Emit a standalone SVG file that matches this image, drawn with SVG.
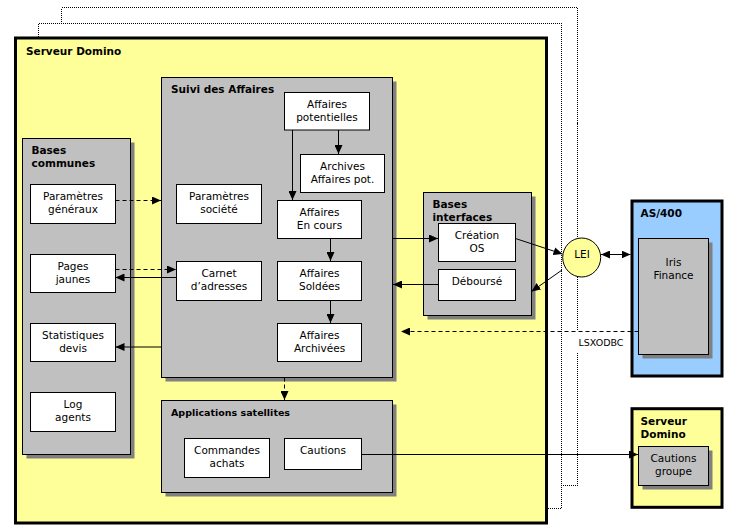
<svg xmlns="http://www.w3.org/2000/svg" width="741" height="532" viewBox="0 0 741 532">
<style>
.t{font-family:"DejaVu Sans",Verdana,sans-serif;font-size:10.5px;fill:#000;text-anchor:middle}
.h{font-family:"DejaVu Sans",Verdana,sans-serif;font-size:10.5px;font-weight:bold;fill:#000}
.w{fill:#fff;stroke:#000;stroke-width:1}
.g{fill:#c0c0c0;stroke:#000;stroke-width:1}
.sh{fill:#808080}
.y{fill:#ffff99;stroke:#000;stroke-width:3}
.b{fill:#99ccff;stroke:#000;stroke-width:3}
.c{fill:none;stroke:#000;stroke-width:1}
.d{stroke-dasharray:4,3}
.dot{stroke-dasharray:1,1;shape-rendering:crispEdges}
</style>
<defs>
<marker id="ah" markerUnits="userSpaceOnUse" markerWidth="9" markerHeight="8" refX="9" refY="4" orient="auto-start-reverse">
<path d="M0,0 L9,4 L0,8 z" fill="#000"/>
</marker>
</defs>
<rect width="741" height="532" fill="#fff"/>

<g id="serveur-domino">
<rect class="y" x="15.5" y="38" width="531" height="485"/>
<text class="h" x="26" y="55">Serveur Domino</text>
</g>

<g id="bases-communes">
<rect class="sh" x="26.5" y="142.5" width="108" height="316"/>
<rect class="g" x="22.5" y="138.5" width="108" height="316"/>
<text class="h" x="31.5" y="154">Bases</text>
<text class="h" x="31.5" y="167">communes</text>
</g>
<g id="parametres-generaux">
<rect class="w" x="30.5" y="184.5" width="85" height="39"/>
<text class="t" x="73" y="200">Paramètres</text>
<text class="t" x="73" y="213">généraux</text>
</g>
<g id="pages-jaunes">
<rect class="w" x="30.5" y="254.5" width="85" height="38"/>
<text class="t" x="73" y="270">Pages</text>
<text class="t" x="73" y="283">jaunes</text>
</g>
<g id="statistiques-devis">
<rect class="w" x="30.5" y="323.5" width="85" height="38"/>
<text class="t" x="73" y="339">Statistiques</text>
<text class="t" x="73" y="352">devis</text>
</g>
<g id="log-agents">
<rect class="w" x="30.5" y="392.5" width="85" height="39"/>
<text class="t" x="73" y="408">Log</text>
<text class="t" x="73" y="421">agents</text>
</g>

<g id="suivi-affaires">
<rect class="sh" x="165.5" y="81.5" width="231" height="300"/>
<rect class="g" x="161.5" y="77.5" width="231" height="300"/>
<text class="h" x="171" y="93">Suivi des Affaires</text>
</g>
<g id="affaires-potentielles">
<rect class="w" x="284.5" y="92.5" width="85" height="37.5"/>
<text class="t" x="327" y="108">Affaires</text>
<text class="t" x="327" y="121">potentielles</text>
</g>
<g id="archives-affaires-pot">
<rect class="w" x="300.5" y="154.5" width="84" height="38"/>
<text class="t" x="342.5" y="170">Archives</text>
<text class="t" x="342.5" y="183">Affaires pot.</text>
</g>
<g id="parametres-societe">
<rect class="w" x="176.5" y="184.5" width="85" height="39"/>
<text class="t" x="219" y="200">Paramètres</text>
<text class="t" x="219" y="213">société</text>
</g>
<g id="affaires-en-cours">
<rect class="w" x="277.5" y="200.5" width="84" height="38"/>
<text class="t" x="319.5" y="216">Affaires</text>
<text class="t" x="319.5" y="229">En cours</text>
</g>
<g id="carnet-adresses">
<rect class="w" x="176.5" y="261.5" width="85" height="39"/>
<text class="t" x="219" y="277">Carnet</text>
<text class="t" x="219" y="290">d’adresses</text>
</g>
<g id="affaires-soldees">
<rect class="w" x="277.5" y="261.5" width="84" height="39"/>
<text class="t" x="319.5" y="277">Affaires</text>
<text class="t" x="319.5" y="290">Soldées</text>
</g>
<g id="affaires-archivees">
<rect class="w" x="277.5" y="323.5" width="84" height="38"/>
<text class="t" x="319.5" y="339">Affaires</text>
<text class="t" x="319.5" y="352">Archivées</text>
</g>

<g id="applications-satellites">
<rect class="sh" x="165.5" y="404.5" width="231" height="92"/>
<rect class="g" x="161.5" y="400.5" width="231" height="92"/>
<text class="h" x="171" y="416" style="font-size:9.5px">Applications satellites</text>
</g>
<g id="commandes-achats">
<rect class="w" x="184.5" y="438.5" width="85" height="39"/>
<text class="t" x="227" y="454">Commandes</text>
<text class="t" x="227" y="467">achats</text>
</g>
<g id="cautions">
<rect class="w" x="284.5" y="438.5" width="77" height="31"/>
<text class="t" x="323" y="454">Cautions</text>
</g>

<g id="bases-interfaces">
<rect class="sh" x="427.5" y="196.5" width="108" height="123"/>
<rect class="g" x="423.5" y="192.5" width="108" height="123"/>
<text class="h" x="432.5" y="208">Bases</text>
<text class="h" x="432.5" y="221">interfaces</text>
</g>
<g id="creation-os">
<rect class="w" x="438.5" y="223.5" width="77" height="38"/>
<text class="t" x="477" y="239">Création</text>
<text class="t" x="477" y="252">OS</text>
</g>
<g id="debourse">
<rect class="w" x="438.5" y="269.5" width="77" height="31"/>
<text class="t" x="477" y="285">Déboursé</text>
</g>

<g id="as400">
<rect class="b" x="632" y="201" width="90" height="175"/>
<text class="h" x="640.5" y="217">AS/400</text>
</g>
<g id="iris-finance">
<rect class="sh" x="642.5" y="242.5" width="70" height="116"/>
<rect class="g" x="638.5" y="238.5" width="70" height="116"/>
<text class="t" x="673.5" y="266">Iris</text>
<text class="t" x="673.5" y="279">Finance</text>
</g>

<g id="serveur-domino-2">
<rect class="y" x="632" y="408.7" width="90" height="98.6"/>
<text class="h" x="640.5" y="425">Serveur</text>
<text class="h" x="640.5" y="438">Domino</text>
</g>
<g id="cautions-groupe">
<rect class="sh" x="642.5" y="450.5" width="70" height="39"/>
<rect class="g" x="638.5" y="446.5" width="70" height="39"/>
<text class="t" x="673.5" y="462">Cautions</text>
<text class="t" x="673.5" y="475">groupe</text>
</g>

<g id="connectors">
<path class="c dot" d="M38.5,37 V23.5 H561.5 V508.5 H548"/>
<path class="c dot" d="M61.5,23.5 V7.5 H577.5 V238.5 M577.5,277 V331 M577.5,353 V485.5 H561.5"/>
<path class="c d" d="M115.5,200.5 H161" marker-end="url(#ah)"/>
<path class="c d" d="M115.5,269.5 H176" marker-end="url(#ah)"/>
<path class="c" d="M176.5,277.5 H115.5" marker-end="url(#ah)"/>
<path class="c" d="M161.5,347 H115.5" marker-end="url(#ah)"/>
<path class="c" d="M292.5,130 V200" marker-end="url(#ah)"/>
<path class="c" d="M338.5,130 V154" marker-end="url(#ah)"/>
<path class="c" d="M330.5,238.5 V261" marker-end="url(#ah)"/>
<path class="c" d="M330.5,300.5 V323" marker-end="url(#ah)"/>
<path class="c d" d="M284.5,377.5 V400" marker-end="url(#ah)"/>
<path class="c" d="M393,238.5 H438" marker-end="url(#ah)"/>
<path class="c" d="M438.5,284.5 H393" marker-end="url(#ah)"/>
<path class="c" d="M515.5,238.5 L562.5,254" marker-end="url(#ah)"/>
<path class="c" d="M562,270 L531.5,291.5" marker-end="url(#ah)"/>
<path class="c" d="M601,254.5 H630.5" marker-start="url(#ah)" marker-end="url(#ah)"/>
<path class="c d" d="M638.5,331.5 H401" marker-end="url(#ah)"/>
<path class="c" d="M361.5,454.5 H638" marker-end="url(#ah)"/>
</g>

<g id="lei">
<ellipse cx="581.7" cy="257.5" rx="19" ry="19.5" fill="#ffff99" stroke="#000" stroke-width="1"/>
<text class="t" x="582" y="258">LEI</text>
</g>
<text class="t" x="601" y="346" style="font-size:9.5px">LSXODBC</text>
</svg>
